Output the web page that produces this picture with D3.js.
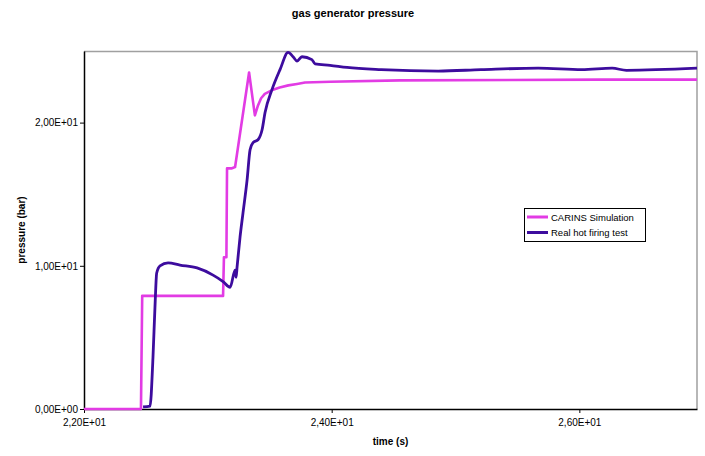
<!DOCTYPE html>
<html lang="en">
<head>
    <meta charset="UTF-8">
    <title>gas generator pressure</title>
    <script src="https://cdn.jsdelivr.net/npm/d3@7/dist/d3.min.js"></script>
    <style>
        body{ margin: 0; background-color: #fff; }
        svg text{ font-family: "Liberation Sans", Arial, sans-serif; }
    </style>
</head>
<body>
<script>
    // data (time in s, pressure in bar)
    const simTime = [22.0, 22.46, 22.47, 23.123, 23.13, 23.15, 23.155, 23.19, 23.22, 23.333,
        23.38, 23.405, 23.43, 23.46, 23.527, 23.58, 23.65, 23.72, 23.785, 23.99, 24.55, 26.17, 26.95];
    const simPressure = [0, 0, 7.9, 7.9, 10.6, 10.6, 16.8, 16.8, 16.9, 23.5,
        20.5, 21.2, 21.7, 22.0, 22.3, 22.45, 22.6, 22.7, 22.8, 22.85, 22.95, 23.0, 23.0];

    const testTime = [22.477, 22.533, 22.557, 22.573, 22.587, 22.614, 22.679, 22.775, 22.913, 23.042,
        23.123, 23.18, 23.22, 23.228, 23.236, 23.26, 23.284, 23.317, 23.341, 23.365,
        23.405, 23.438, 23.462, 23.518, 23.583, 23.648, 23.688, 23.72, 23.76, 23.84,
        23.866, 23.987, 24.124, 24.4, 24.86, 25.207, 25.667, 26.02, 26.265, 26.38, 26.95];
    const testPressure = [0.15, 0.2, 3.6, 7.1, 9.5, 10.0, 10.2, 10.05, 9.85, 9.35,
        8.9, 8.5, 9.7, 9.2, 9.9, 12.0, 13.7, 16.0, 18.1, 18.6,
        18.8, 19.5, 20.7, 22.3, 23.7, 24.9, 24.6, 24.3, 24.6, 24.4,
        24.1, 24.0, 23.85, 23.7, 23.6, 23.7, 23.8, 23.7, 23.8, 23.65, 23.8];

    const xTicks = [22, 24, 26];
    const yTicks = [0, 10, 20];
    const seriesNames = ["CARINS Simulation", "Real hot firing test"];
    const seriesColors = ["#e23be4", "#3d0c9e"];

    const width = 705, height = 456;
    const margin = { top: 51, right: 8, bottom: 47, left: 84 };
    const innerWidth = width - margin.left - margin.right;
    const innerHeight = height - margin.top - margin.bottom;

    // Excel style "2,00E+01"
    function sci(v) {
        const parts = v.toExponential(2).split("e");
        const e = +parts[1];
        const exp = (e < 0 ? "-" : "+") + String(Math.abs(e)).padStart(2, "0");
        return parts[0].replace(".", ",") + "E" + exp;
    }

    const svg = d3.select("body").append("svg")
        .attr("width", width)
        .attr("height", height);

    const g = svg.append("g")
        .attr("transform", `translate(${margin.left},${margin.top})`);

    const x = d3.scaleLinear().domain([22, 26.95]).range([0, innerWidth]);
    const y = d3.scaleLinear().domain([0, 25]).range([innerHeight, 0]);

    // title
    svg.append("text")
        .attr("x", 353)
        .attr("y", 17)
        .attr("text-anchor", "middle")
        .style("font-size", "11px")
        .style("font-weight", "bold")
        .text("gas generator pressure");

    // frame top/right in grey
    g.append("path")
        .attr("d", `M0,0.5H${innerWidth}V${innerHeight}`)
        .attr("fill", "none")
        .attr("stroke", "#a0a0a0")
        .attr("stroke-width", 1.5);

    // axes
    const xAxis = g.append("g")
        .attr("transform", `translate(0,${innerHeight})`)
        .call(d3.axisBottom(x).tickValues(xTicks).tickFormat(sci).tickSizeInner(4).tickSizeOuter(0));
    const yAxis = g.append("g")
        .call(d3.axisLeft(y).tickValues(yTicks).tickFormat(sci).tickSizeInner(4).tickSizeOuter(0));

    [xAxis, yAxis].forEach(a => {
        a.select(".domain").attr("stroke", "#000").attr("stroke-width", 1.5);
        a.selectAll(".tick line").attr("stroke", "#000");
        a.selectAll(".tick text")
            .style("font-family", "'Liberation Sans', Arial, sans-serif")
            .style("font-size", "10px")
            .attr("fill", "#000");
    });
    xAxis.selectAll(".tick text").attr("dy", "1em");
    yAxis.selectAll(".tick text").attr("x", -6);

    // axis titles
    g.append("text")
        .attr("x", innerWidth / 2)
        .attr("y", innerHeight + 36)
        .attr("text-anchor", "middle")
        .style("font-size", "10px")
        .style("font-weight", "bold")
        .text("time (s)");

    g.append("text")
        .attr("transform", "rotate(-90)")
        .attr("x", -innerHeight / 2)
        .attr("y", -59)
        .attr("text-anchor", "middle")
        .style("font-size", "10px")
        .style("font-weight", "bold")
        .text("pressure (bar)");

    // lines: simulation has sharp steps, the test trace is smooth
    const stepLine = d3.line().x(d => x(d[0])).y(d => y(d[1]));
    const smoothLine = d3.line().x(d => x(d[0])).y(d => y(d[1])).curve(d3.curveMonotoneX);

    g.append("path")
        .datum(d3.zip(simTime, simPressure))
        .attr("d", stepLine)
        .attr("fill", "none")
        .attr("stroke", seriesColors[0])
        .attr("stroke-width", 2.6)
        .attr("stroke-linejoin", "round");

    g.append("path")
        .datum(d3.zip(testTime, testPressure))
        .attr("d", smoothLine)
        .attr("fill", "none")
        .attr("stroke", seriesColors[1])
        .attr("stroke-width", 2.8)
        .attr("stroke-linejoin", "round");

    // legend
    const legend = svg.append("g").attr("transform", "translate(524,208)");
    legend.append("rect")
        .attr("x", 0.5).attr("y", 0.5)
        .attr("width", 121).attr("height", 33)
        .attr("fill", "#fff")
        .attr("stroke", "#000")
        .attr("stroke-width", 1);

    seriesNames.forEach((name, i) => {
        const ly = 9 + i * 15.5;
        legend.append("line")
            .attr("x1", 3).attr("x2", 24)
            .attr("y1", ly).attr("y2", ly)
            .attr("stroke", seriesColors[i])
            .attr("stroke-width", 3);
        legend.append("text")
            .attr("x", 27)
            .attr("y", ly + 3.5)
            .style("font-size", "9.5px")
            .text(name);
    });
</script>
</body>
</html>
